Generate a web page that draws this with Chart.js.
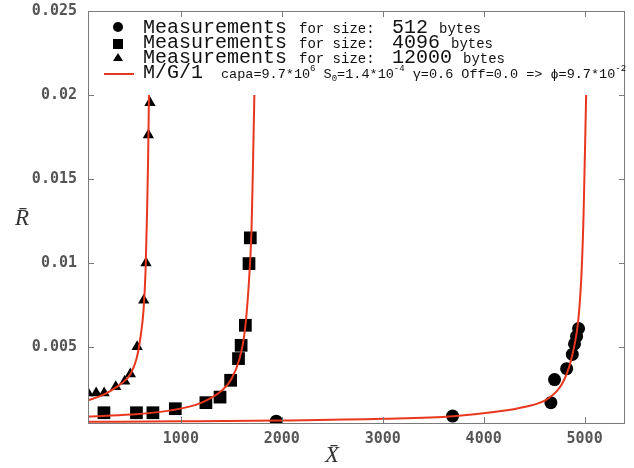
<!DOCTYPE html>
<html>
<head>
<meta charset="utf-8">
<script src="https://cdn.jsdelivr.net/npm/chart.js@4.4.1/dist/chart.umd.min.js"></script>
<style>
  html, body { margin: 0; padding: 0; background: #fff; }
</style>
</head>
<body>
<canvas id="mg1Chart" width="634" height="468"></canvas>
<script>
// tick labels
const xTicks = [1000, 2000, 3000, 4000, 5000];
const yTicks = [0.005, 0.01, 0.015, 0.02, 0.025];

// measurements, 512 bytes (circles)
const meas512X = [1945, 3692, 4666, 4702, 4822, 4878, 4900, 4920, 4940];
const meas512Y = [0.00061, 0.00091, 0.00171, 0.00308, 0.00373, 0.00458, 0.00520, 0.00565, 0.00612];

// measurements, 4096 bytes (squares)
const meas4096X = [238, 560, 723, 945, 1248, 1388, 1493, 1571, 1597, 1639, 1675, 1688];
const meas4096Y = [0.00111, 0.00111, 0.00111, 0.00135, 0.00171, 0.00204, 0.00304, 0.00433, 0.00512, 0.00631, 0.00998, 0.01151];

// measurements, 12000 bytes (triangles)
const meas12000X = [80, 161, 240, 355, 444, 500, 567, 632, 655, 678, 694];
const meas12000Y = [0.00228, 0.00228, 0.00228, 0.00265, 0.00298, 0.00342, 0.00503, 0.0078, 0.01002, 0.01762, 0.01954];

// M/G/1 model curves
const model512X = [80, 1000, 2000, 3000, 3700, 4100, 4400, 4650, 4800, 4880, 4940, 4970, 4990, 5015];
const model512Y = [0.00057, 0.0006, 0.00065, 0.00075, 0.0009, 0.00115, 0.00145, 0.002, 0.0031, 0.0046, 0.0068, 0.0095, 0.013, 0.02];

const model4096X = [80, 500, 900, 1200, 1400, 1500, 1580, 1630, 1670, 1700, 1715, 1728];
const model4096Y = [0.00088, 0.001, 0.00125, 0.0017, 0.0024, 0.0031, 0.0043, 0.0058, 0.0085, 0.012, 0.016, 0.02];

const model12000X = [80, 200, 300, 400, 500, 560, 600, 630, 650, 665, 675, 684];
const model12000Y = [0.00185, 0.0021, 0.0024, 0.0028, 0.0034, 0.0043, 0.0056, 0.0072, 0.0095, 0.013, 0.016, 0.02];

const RED = '#e8371f';
const toPts = (xs, ys) => xs.map((x, i) => ({ x: x, y: ys[i] }));

function modelLine(xs, ys) {
    return {
        type: 'line',
        data: toPts(xs, ys),
        borderColor: RED,
        borderWidth: 2,
        pointRadius: 0,
        cubicInterpolationMode: 'monotone',
        fill: false,
        order: 0
    };
}

function markers(xs, ys, style, r) {
    return {
        type: 'scatter',
        data: toPts(xs, ys),
        pointStyle: style,
        pointRadius: r,
        backgroundColor: '#000',
        borderColor: '#000',
        borderWidth: 0,
        order: 1
    };
}

// frame, inward ticks on all four sides, axis titles
const framePlugin = {
    id: 'frame',
    afterDraw(chart) {
        const { ctx, chartArea: a, scales } = chart;
        ctx.save();
        ctx.strokeStyle = '#7a7a7a';
        ctx.lineWidth = 1;
        ctx.strokeRect(a.left + 0.5, a.top + 0.5, a.right - a.left - 1, a.bottom - a.top);
        ctx.beginPath();
        xTicks.forEach(v => {
            const px = Math.round(scales.x.getPixelForValue(v)) + 0.5;
            ctx.moveTo(px, a.bottom); ctx.lineTo(px, a.bottom - 6);
            ctx.moveTo(px, a.top); ctx.lineTo(px, a.top + 6);
        });
        yTicks.forEach(v => {
            const py = Math.round(scales.y.getPixelForValue(v)) + 0.5;
            ctx.moveTo(a.left, py); ctx.lineTo(a.left + 6, py);
            ctx.moveTo(a.right, py); ctx.lineTo(a.right - 6, py);
        });
        ctx.stroke();

        // axis titles
        ctx.fillStyle = '#333';
        ctx.font = 'italic 23px "Liberation Serif"';
        ctx.textAlign = 'center';
        ctx.textBaseline = 'alphabetic';
        ctx.fillText('R\u0304', 22, 225);
        ctx.fillText('X\u0304', 332, 462);
        ctx.restore();
    }
};

// legend drawn in the top-left corner of the plot
const legendPlugin = {
    id: 'mg1Legend',
    afterDraw(chart) {
        const ctx = chart.ctx;
        const big = '20px "Liberation Mono"';
        const small = '14px "Liberation Mono"';
        const tiny = '9px "Liberation Mono"';
        ctx.save();
        ctx.fillStyle = '#111';
        ctx.textBaseline = 'alphabetic';
        ctx.textAlign = 'left';

        const rows = [
            { y: 33, size: '512', bytesX: 439 },
            { y: 48, size: '4096', bytesX: 451 },
            { y: 63, size: '12000', bytesX: 463 }
        ];
        rows.forEach(r => {
            ctx.font = big; ctx.fillText('Measurements', 143, r.y);
            ctx.font = small; ctx.fillText('for size:', 299, r.y);
            ctx.font = big; ctx.fillText(r.size, 392, r.y);
            ctx.font = small; ctx.fillText('bytes', r.bytesX, r.y);
        });

        // symbols
        ctx.fillStyle = '#000';
        ctx.beginPath(); ctx.arc(118, 27, 5, 0, Math.PI * 2); ctx.fill();
        ctx.fillRect(113, 39, 10, 10);
        ctx.beginPath(); ctx.moveTo(118, 53); ctx.lineTo(123, 61); ctx.lineTo(113, 61); ctx.closePath(); ctx.fill();
        ctx.strokeStyle = RED; ctx.lineWidth = 2;
        ctx.beginPath(); ctx.moveTo(104, 74); ctx.lineTo(134, 74); ctx.stroke();

        // model row with super/subscripts
        ctx.fillStyle = '#111';
        ctx.font = big; ctx.fillText('M/G/1', 143, 78);
        const parts = [
            ['capa=9.7*10', 0], ['6', -7], [' S', 0], ['0', 3], ['=1.4*10', 0], ['-4', -7],
            [' \u03b3=0.6 Off=0.0 => \u03d5=9.7*10', 0], ['-2', -7]
        ];
        let x = 221;
        parts.forEach(([t, dy]) => {
            ctx.font = dy === 0 ? '13.5px "Liberation Mono"' : tiny;
            ctx.fillText(t, x, 78 + dy);
            x += ctx.measureText(t).width;
        });
        ctx.restore();
    }
};

const tickFont = { family: 'DejaVu Sans Mono', size: 15, weight: 'bold' };

new Chart(document.getElementById('mg1Chart'), {
    type: 'scatter',
    data: {
        datasets: [
            modelLine(model512X, model512Y),
            modelLine(model4096X, model4096Y),
            modelLine(model12000X, model12000Y),
            markers(meas512X, meas512Y, 'circle', 6.5),
            markers(meas4096X, meas4096Y, 'rect', 9),
            markers(meas12000X, meas12000Y, 'triangle', 6.5)
        ]
    },
    options: {
        responsive: false,
        animation: false,
        devicePixelRatio: 1,
        layout: { padding: { top: 11, right: -1, left: 0, bottom: 0 } },
        plugins: {
            legend: { display: false },
            tooltip: { enabled: false }
        },
        scales: {
            x: {
                type: 'linear',
                min: 80,
                max: 5400,
                afterBuildTicks: s => { s.ticks = xTicks.map(v => ({ value: v })); },
                afterFit: s => { s.height = 45; s.paddingLeft = 0; s.paddingRight = 0; },
                grid: { display: false, drawTicks: false },
                border: { display: false },
                ticks: {
                    padding: 7,
                    color: '#555',
                    font: tickFont,
                    callback: v => String(v)
                }
            },
            y: {
                type: 'linear',
                min: 0.0005,
                max: 0.025,
                afterBuildTicks: s => { s.ticks = yTicks.map(v => ({ value: v })); },
                afterFit: s => { s.width = 88; s.paddingTop = 0; s.paddingBottom = 0; },
                grid: { display: false, drawTicks: false },
                border: { display: false },
                ticks: {
                    padding: 11,
                    color: '#555',
                    font: tickFont,
                    callback: v => String(+v.toFixed(3))
                }
            }
        }
    },
    plugins: [framePlugin, legendPlugin]
});
</script>
</body>
</html>
